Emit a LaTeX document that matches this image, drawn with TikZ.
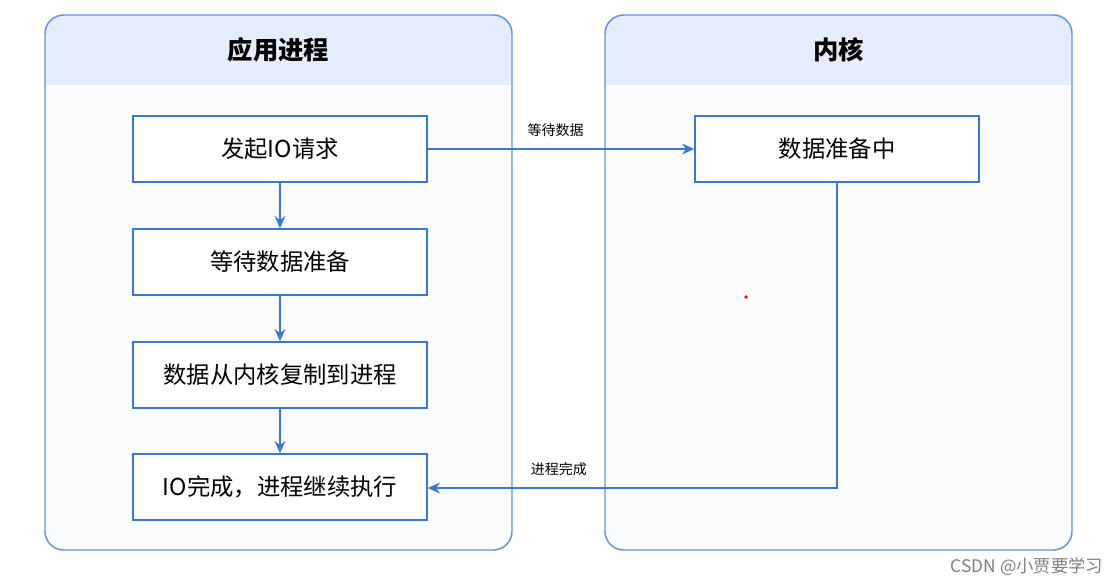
\documentclass[tikz,border=0pt]{standalone}
\usepackage{fontspec}
\setmainfont{Noto Sans CJK SC}
\usetikzlibrary{arrows.meta}
\definecolor{bl}{HTML}{3A78D8}
\definecolor{hd}{HTML}{E3EDFB}
\definecolor{bg}{HTML}{FBFCFE}
\tikzset{
 box/.style={draw=bl,line width=1.2pt,fill=white,minimum width=220.5pt,minimum height=49.5pt,font=\fontsize{17.5}{19}\selectfont,inner sep=0pt},
 arr/.style={draw=bl,line width=1.8pt,-{Stealth[length=9pt,width=8pt]}},
 lab/.style={font=\fontsize{10.5}{12}\selectfont},
}
\begin{document}
\begin{tikzpicture}[x=0.75pt,y=-0.75pt]
\useasboundingbox (0,0) rectangle (1113,587);
\fill[white] (0,0) rectangle (1113,587);
\foreach \x/\n/\t in {45/L/应用进程,605/R/内核}{
 \begin{scope}
 \clip[rounded corners=14pt] (\x,15) rectangle (\x+467,550);
 \fill[bg] (\x,15) rectangle (\x+467,550);
 \fill[hd] (\x,15) rectangle (\x+467,85);
 \end{scope}
 \draw[draw=bl!80,line width=1.1pt,rounded corners=14pt] (\x,15) rectangle (\x+467,550);
 \node[font=\fontsize{19}{21}\selectfont\bfseries] (\n) at (\x+233.5,50) {\t};
}
\node[box] (a) at (280,149) {发起IO请求};
\node[box] (b) at (280,262) {等待数据准备};
\node[box] (c) at (280,375) {数据从内核复制到进程};
\node[box] (d) at (280,487) {IO完成，进程继续执行};
\node[box,minimum width=213pt] (k) at (837,149) {数据准备中};
\draw[arr] (a) -- (b);
\draw[arr] (b) -- (c);
\draw[arr] (c) -- (d);
\draw[arr] (a) -- node[lab,above=5pt,pos=0.48]{等待数据} (k);
\coordinate (t) at (837,488);
\draw[arr] (k.south) -- (t) -- node[lab,above=5pt,pos=0.68]{进程完成} (d.east|-t);
\fill[red] (746,297) circle (1.8);
\node[font=\fontsize{13}{15}\selectfont,text=gray,anchor=east] (w) at (1108,567) {CSDN @小贾要学习};
\end{tikzpicture}
\end{document}
